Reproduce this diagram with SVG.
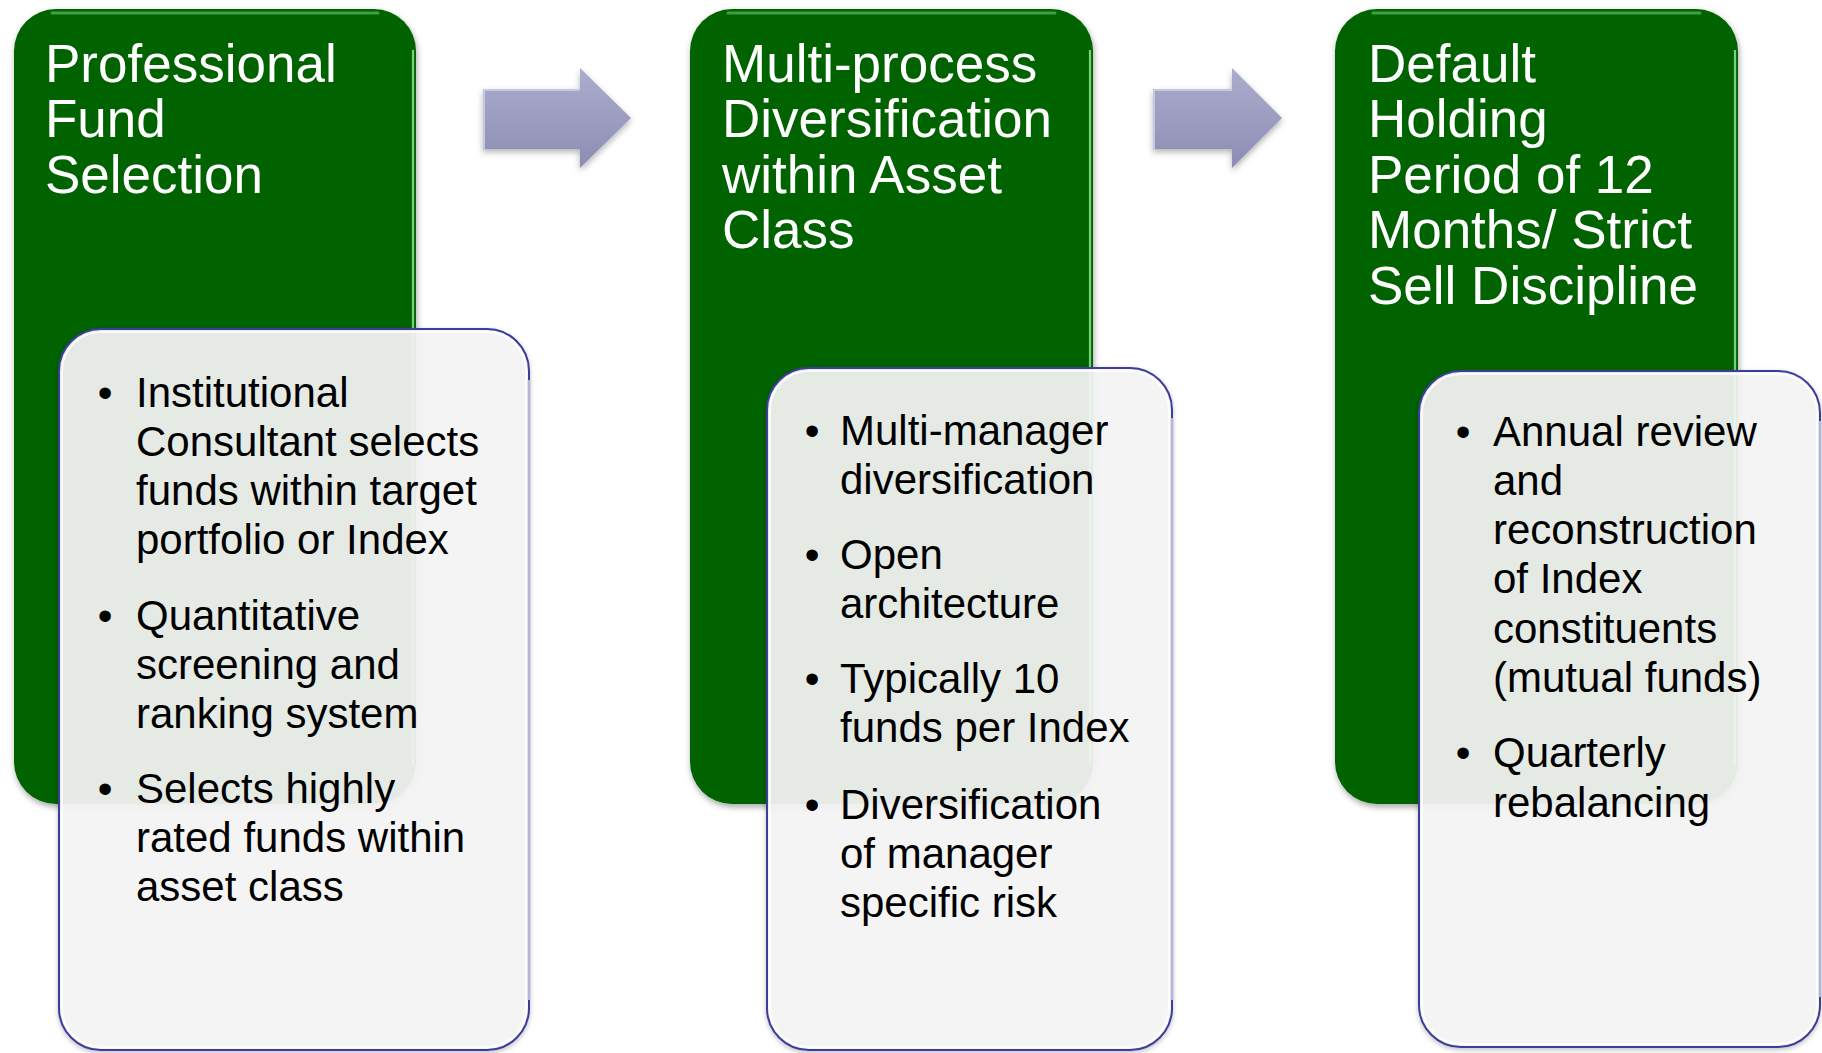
<svg xmlns="http://www.w3.org/2000/svg" width="1822" height="1053" viewBox="0 0 1822 1053">
  <defs>
    <style>
      .title { font-family: "Liberation Sans", Arial, sans-serif; font-size: 53px; fill: #ffffff; }
      .body { font-family: "Liberation Sans", Arial, sans-serif; font-size: 42px; fill: #000000; }
      .bullet { font-family: "Liberation Sans", Arial, sans-serif; font-size: 42px; fill: #000000; text-anchor: middle; }
      .stage { fill: #006400; }
      .stage-hi-top { fill: none; stroke: #56b456; stroke-width: 3; stroke-linecap: round; opacity: 0.75; }
      .stage-hi-side { fill: none; stroke: #86dc86; stroke-width: 2.2; opacity: 0.9; }
      .card { fill: #f5f5f5; fill-opacity: 0.92; stroke: #3c3c9a; stroke-width: 2; }
      .card-hi { fill: none; stroke: #ffffff; stroke-width: 2; opacity: 0.8; }
      .card-edge { fill: none; stroke: #b4b4d6; stroke-width: 2.6; }
      .arrow { fill: url(#arrowFill); }
      .arrow-hi { fill: none; stroke: #c6c7e0; stroke-width: 2; }
    </style>
    <linearGradient id="arrowFill" x1="0" y1="0" x2="0" y2="1">
      <stop offset="0" stop-color="#abacce"/>
      <stop offset="0.5" stop-color="#9c9dc0"/>
      <stop offset="1" stop-color="#8b8cb0"/>
    </linearGradient>
    <filter id="shadow" x="-10%" y="-10%" width="120%" height="120%">
      <feDropShadow dx="1" dy="3" stdDeviation="3" flood-color="#000000" flood-opacity="0.35"/>
    </filter>
    <filter id="softShadow" x="-10%" y="-10%" width="120%" height="120%">
      <feDropShadow dx="0" dy="2" stdDeviation="2.5" flood-color="#000000" flood-opacity="0.25"/>
    </filter>
    <filter id="arrowShadow" x="-20%" y="-20%" width="140%" height="150%">
      <feDropShadow dx="0" dy="3" stdDeviation="3" flood-color="#000000" flood-opacity="0.3"/>
    </filter>
  </defs>

  <rect x="0" y="0" width="1822" height="1053" fill="#ffffff"/>

  <!-- Stage 1 -->
  <g id="stage-1">
    <rect class="stage" x="14" y="9" width="402" height="795" rx="42" ry="42" filter="url(#shadow)"/>
    <path class="stage-hi-top" d="M 52 13 L 378 13"/>
    <path class="stage-hi-side" d="M 413 50 L 413 766"/>
    <text class="title">
      <tspan x="45" y="82">Professional</tspan>
      <tspan x="45" y="137">Fund</tspan>
      <tspan x="45" y="193">Selection</tspan>
    </text>
    <rect class="card" x="59" y="329" width="470" height="721" rx="42" ry="42" filter="url(#softShadow)"/>
    <rect class="card-hi" x="62" y="332" width="464" height="715" rx="39" ry="39"/>
    <path class="card-edge" d="M 529 380 L 529 1000"/>
    <text class="bullet" x="105" y="407">•</text>
    <text class="body">
      <tspan x="136" y="407">Institutional</tspan>
      <tspan x="136" y="456">Consultant selects</tspan>
      <tspan x="136" y="505">funds within target</tspan>
      <tspan x="136" y="554">portfolio or Index</tspan>
    </text>
    <text class="bullet" x="105" y="630">•</text>
    <text class="body">
      <tspan x="136" y="630">Quantitative</tspan>
      <tspan x="136" y="679">screening and</tspan>
      <tspan x="136" y="728">ranking system</tspan>
    </text>
    <text class="bullet" x="105" y="803">•</text>
    <text class="body">
      <tspan x="136" y="803">Selects highly</tspan>
      <tspan x="136" y="852">rated funds within</tspan>
      <tspan x="136" y="901">asset class</tspan>
    </text>
  </g>

  <!-- Stage 2 -->
  <g id="stage-2">
    <rect class="stage" x="690" y="9" width="403" height="795" rx="42" ry="42" filter="url(#shadow)"/>
    <path class="stage-hi-top" d="M 728 13 L 1055 13"/>
    <path class="stage-hi-side" d="M 1090 50 L 1090 766"/>
    <text class="title">
      <tspan x="722" y="82">Multi-process</tspan>
      <tspan x="722" y="137">Diversification</tspan>
      <tspan x="722" y="193">within Asset</tspan>
      <tspan x="722" y="248">Class</tspan>
    </text>
    <rect class="card" x="767" y="368" width="405" height="682" rx="42" ry="42" filter="url(#softShadow)"/>
    <rect class="card-hi" x="770" y="371" width="399" height="676" rx="39" ry="39"/>
    <path class="card-edge" d="M 1172 418 L 1172 1000"/>
    <text class="bullet" x="812" y="445">•</text>
    <text class="body">
      <tspan x="840" y="445">Multi-manager</tspan>
      <tspan x="840" y="494">diversification</tspan>
    </text>
    <text class="bullet" x="812" y="569">•</text>
    <text class="body">
      <tspan x="840" y="569">Open</tspan>
      <tspan x="840" y="618">architecture</tspan>
    </text>
    <text class="bullet" x="812" y="693">•</text>
    <text class="body">
      <tspan x="840" y="693">Typically 10</tspan>
      <tspan x="840" y="742">funds per Index</tspan>
    </text>
    <text class="bullet" x="812" y="819">•</text>
    <text class="body">
      <tspan x="840" y="819">Diversification</tspan>
      <tspan x="840" y="868">of manager</tspan>
      <tspan x="840" y="917">specific risk</tspan>
    </text>
  </g>

  <!-- Stage 3 -->
  <g id="stage-3">
    <rect class="stage" x="1335" y="9" width="403" height="795" rx="42" ry="42" filter="url(#shadow)"/>
    <path class="stage-hi-top" d="M 1373 13 L 1700 13"/>
    <path class="stage-hi-side" d="M 1735 50 L 1735 766"/>
    <text class="title">
      <tspan x="1368" y="82">Default</tspan>
      <tspan x="1368" y="137">Holding</tspan>
      <tspan x="1368" y="193">Period of 12</tspan>
      <tspan x="1368" y="248">Months/ Strict</tspan>
      <tspan x="1368" y="304">Sell Discipline</tspan>
    </text>
    <rect class="card" x="1419" y="371" width="401" height="676" rx="42" ry="42" filter="url(#softShadow)"/>
    <rect class="card-hi" x="1422" y="374" width="395" height="670" rx="39" ry="39"/>
    <path class="card-edge" d="M 1820 421 L 1820 997"/>
    <text class="bullet" x="1463" y="446">•</text>
    <text class="body">
      <tspan x="1493" y="446">Annual review</tspan>
      <tspan x="1493" y="495">and</tspan>
      <tspan x="1493" y="544">reconstruction</tspan>
      <tspan x="1493" y="593">of Index</tspan>
      <tspan x="1493" y="643">constituents</tspan>
      <tspan x="1493" y="692">(mutual funds)</tspan>
    </text>
    <text class="bullet" x="1463" y="767">•</text>
    <text class="body">
      <tspan x="1493" y="767">Quarterly</tspan>
      <tspan x="1493" y="817">rebalancing</tspan>
    </text>
  </g>

  <!-- Block arrows between stages -->
  <g id="connectors">
    <g id="arrow-1-2" filter="url(#arrowShadow)">
      <polygon class="arrow" points="483,89 580,89 580,68 631,118 580,168 580,149 483,149"/>
      <path class="arrow-hi" d="M 484 150 L 484 90 L 580 90"/>
    </g>
    <g id="arrow-2-3" filter="url(#arrowShadow)">
      <polygon class="arrow" points="1153,89 1232,89 1232,68 1282,118 1232,168 1232,149 1153,149"/>
      <path class="arrow-hi" d="M 1154 150 L 1154 90 L 1232 90"/>
    </g>
  </g>
</svg>
